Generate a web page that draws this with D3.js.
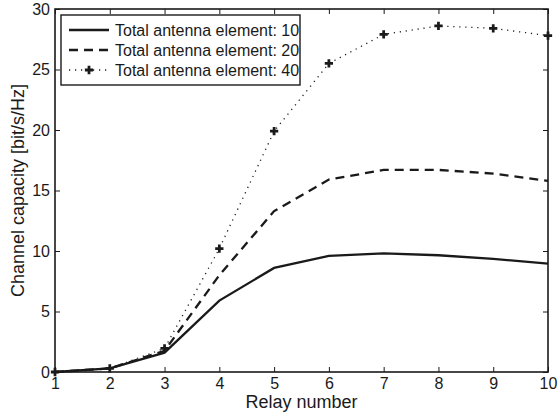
<!DOCTYPE html>
<html>
<head>
<meta charset="utf-8">
<script src="https://cdn.jsdelivr.net/npm/d3@7"></script>
<style>
body { margin: 0; background: #fff; }
text { font-family: "Liberation Sans", Arial, sans-serif; fill: #1a1a1a; }
</style>
</head>
<body>
<script>
var relays = [1, 2, 3, 4, 5, 6, 7, 8, 9, 10];
var ant10 = [0, 0.3, 1.6, 5.9, 8.6, 9.6, 9.8, 9.65, 9.35, 8.95];
var ant20 = [0, 0.3, 1.75, 8.0, 13.3, 15.9, 16.7, 16.7, 16.4, 15.8];
var ant40 = [0, 0.3, 1.95, 10.2, 19.9, 25.5, 27.9, 28.6, 28.4, 27.8];
var seriesNames = ["Total antenna element: 10", "Total antenna element: 20", "Total antenna element: 40"];
var yTicks = [0, 5, 10, 15, 20, 25, 30];

var width = 558, height = 419;
var plotL = 55, plotR = 548, plotT = 9, plotB = 372;

var svg = d3.select("body").append("svg")
    .attr("width", width)
    .attr("height", height);

var x = d3.scaleLinear().domain([1, 10]).range([plotL, plotR]);
var y = d3.scaleLinear().domain([0, 30]).range([plotB, plotT]);

var color = "#1a1a1a";

// axes with inward ticks on all sides
var xAxis = svg.append("g")
    .attr("transform", "translate(0," + plotB + ")")
    .call(d3.axisBottom(x).tickValues(relays).tickSize(-5).tickPadding(6));
var xTop = svg.append("g")
    .attr("transform", "translate(0," + plotT + ")")
    .call(d3.axisTop(x).tickValues(relays).tickSize(-5).tickFormat(""));
var yAxis = svg.append("g")
    .attr("transform", "translate(" + plotL + ",0)")
    .call(d3.axisLeft(y).tickValues(yTicks).tickSize(-5).tickPadding(5));
var yRight = svg.append("g")
    .attr("transform", "translate(" + plotR + ",0)")
    .call(d3.axisRight(y).tickValues(yTicks).tickSize(-5).tickFormat(""));

[xAxis, xTop, yAxis, yRight].forEach(function(g) {
    g.select(".domain").remove();
    g.selectAll("line").attr("stroke", color).attr("stroke-width", 1);
    g.selectAll("text").style("font-size", "16px").attr("fill", color);
});

svg.append("rect")
    .attr("x", plotL).attr("y", plotT)
    .attr("width", plotR - plotL).attr("height", plotB - plotT)
    .attr("fill", "none").attr("stroke", color).attr("stroke-width", 1.6);

var line = d3.line()
    .x(function(d, i) { return x(relays[i]); })
    .y(function(d) { return y(d); });

var styles = [
    { data: ant10, dash: null, width: 2.3 },
    { data: ant20, dash: "9,6", width: 2.3 },
    { data: ant40, dash: "1.2,4.8", width: 1.3 }
];

styles.forEach(function(s) {
    svg.append("path")
        .datum(s.data)
        .attr("fill", "none")
        .attr("stroke", color)
        .attr("stroke-width", s.width)
        .attr("stroke-dasharray", s.dash)
        .attr("d", line);
});

var plus = d3.symbol().type(d3.symbolCross).size(38);
svg.selectAll(".pin").data(ant40)
    .enter().append("path")
    .attr("class", "pin")
    .attr("d", plus)
    .attr("fill", color)
    .attr("transform", function(d, i) {
        return "translate(" + x(relays[i]) + "," + y(d) + ")";
    });

// legend
var lg = svg.append("g");
lg.append("rect")
    .attr("x", 61).attr("y", 15)
    .attr("width", 239).attr("height", 70)
    .attr("fill", "#fff").attr("stroke", color).attr("stroke-width", 1.4);

styles.forEach(function(s, i) {
    var yy = 30 + i * 20;
    lg.append("line")
        .attr("x1", 69).attr("x2", 109)
        .attr("y1", yy).attr("y2", yy)
        .attr("stroke", color)
        .attr("stroke-width", s.width)
        .attr("stroke-dasharray", s.dash);
    lg.append("text")
        .attr("x", 115).attr("y", yy + 5.6)
        .style("font-size", "16px")
        .text(seriesNames[i]);
});
lg.append("path")
    .attr("d", plus)
    .attr("fill", color)
    .attr("transform", "translate(89,70)");

svg.append("text")
    .attr("x", (plotL + plotR) / 2).attr("y", 408)
    .attr("text-anchor", "middle")
    .style("font-size", "18px")
    .text("Relay number");

svg.append("text")
    .attr("transform", "translate(24," + ((plotT + plotB) / 2) + ") rotate(-90)")
    .attr("text-anchor", "middle")
    .style("font-size", "18px")
    .text("Channel capacity [bit/s/Hz]");
</script>
</body>
</html>
